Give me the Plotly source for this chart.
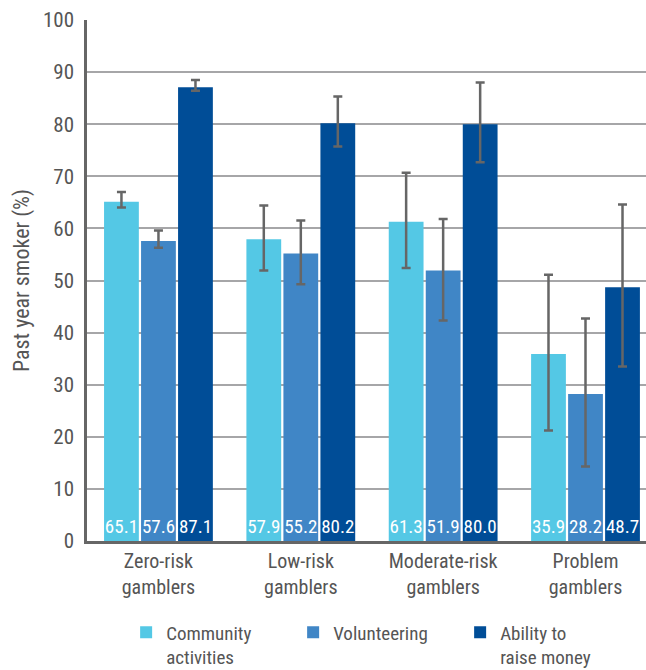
import plotly.graph_objects as go

# Gambler risk groups (x-axis categories)
groups = ["Zero-risk<br>gamblers", "Low-risk<br>gamblers",
          "Moderate-risk<br>gamblers", "Problem<br>gamblers"]

# Past-year smoking prevalence (%) by social capital measure
community = [65.1, 57.9, 61.3, 35.9]
volunteering = [57.6, 55.2, 51.9, 28.2]
raise_money = [87.1, 80.2, 80.0, 48.7]

# 95% confidence limits (lower, upper)
community_lo = [64.0, 51.9, 52.4, 21.2]
community_hi = [67.0, 64.4, 70.7, 51.1]
volunteering_lo = [56.3, 49.3, 42.3, 14.3]
volunteering_hi = [59.6, 61.5, 61.8, 42.7]
raise_money_lo = [86.4, 75.7, 72.7, 33.5]
raise_money_hi = [88.5, 85.3, 88.0, 64.6]

y_ticks = [0, 10, 20, 30, 40, 50, 60, 70, 80, 90, 100]

FONT = "Roboto Condensed, Liberation Sans Narrow, DejaVu Sans Condensed, Roboto, sans-serif"
TEXT_GREY = "#555555"

series = [
    ("Community<br>activities", community, community_lo, community_hi, "#54C8E5"),
    ("Volunteering", volunteering, volunteering_lo, volunteering_hi, "#4086C6"),
    ("Ability to<br>raise money", raise_money, raise_money_lo, raise_money_hi, "#004D97"),
]

x_pos = list(range(len(groups)))

fig = go.Figure()
for name, vals, lo, hi, colour in series:
    fig.add_trace(go.Bar(
        name=name,
        x=x_pos,
        y=vals,
        marker=dict(color=colour, line=dict(width=0)),
        text=[f"{v:.1f}" for v in vals],
        textposition="inside",
        insidetextanchor="start",
        textangle=0,
        textfont=dict(color="white", size=19, family=FONT),
        error_y=dict(
            type="data",
            symmetric=False,
            array=[h - v for h, v in zip(hi, vals)],
            arrayminus=[v - l for v, l in zip(vals, lo)],
            color="#666666",
            thickness=2.5,
            width=4.5,
        ),
    ))

fig.update_layout(
    width=646,
    height=670,
    margin=dict(l=87, r=0, t=20, b=129, autoexpand=False),
    paper_bgcolor="white",
    plot_bgcolor="white",
    barmode="group",
    bargap=0.22,
    bargroupgap=0.06,
    uniformtext=dict(minsize=19, mode="show"),
    font=dict(family=FONT, color=TEXT_GREY),
    showlegend=True,
    legend=dict(
        orientation="h",
        x=0.07,
        xanchor="left",
        y=-0.139,
        yanchor="top",
        valign="top",
        font=dict(size=19, color=TEXT_GREY, family=FONT),
        entrywidth=122,
        entrywidthmode="pixels",
        itemclick=False,
        tracegroupgap=0,
    ),
    xaxis=dict(
        range=[-0.502, 3.425],
        tickvals=x_pos,
        ticktext=groups,
        tickfont=dict(size=20, color=TEXT_GREY, family=FONT),
        showgrid=False,
        showline=True,
        linecolor="#666666",
        linewidth=2.5,
        ticks="",
        zeroline=False,
    ),
    yaxis=dict(
        range=[0, 100],
        tickvals=y_ticks,
        tickfont=dict(size=21, color=TEXT_GREY, family=FONT),
        showgrid=True,
        gridcolor="#A6A6A8",
        gridwidth=1.5,
        showline=True,
        linecolor="#666666",
        linewidth=2.5,
        ticks="",
        ticklabelstandoff=6,
        zeroline=False,
        title=dict(text="Past year smoker (%)", font=dict(size=22, color=TEXT_GREY, family=FONT), standoff=8),
    ),
)

fig.write_html("out.html")
